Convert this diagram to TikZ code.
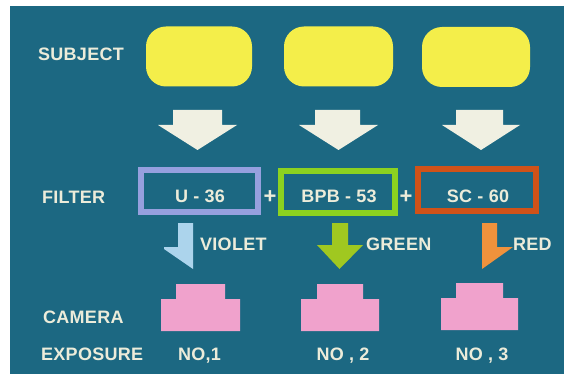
\documentclass[tikz,border=0pt]{standalone}
\usepackage{fontspec}
\setmainfont{Liberation Sans}[LetterSpace=1.5]
\definecolor{bgteal}{RGB}{28,104,130}
\definecolor{cream}{RGB}{236,236,218}
\definecolor{subjyellow}{RGB}{244,238,74}
\definecolor{arrowwhite}{RGB}{240,240,226}
\definecolor{violetc}{RGB}{150,160,222}
\definecolor{greenc}{RGB}{140,210,32}
\definecolor{redc}{RGB}{208,82,24}
\definecolor{violetarrow}{RGB}{172,212,236}
\definecolor{greenarrow}{RGB}{160,200,32}
\definecolor{redarrow}{RGB}{240,146,60}
\definecolor{camerapink}{RGB}{240,162,204}
\tikzset{
  lbl/.style={text=cream, font=\bfseries\fontsize{18}{20}\selectfont, inner sep=0pt},
  plus/.style={text=cream, font=\bfseries\fontsize{22}{24}\selectfont, inner sep=0pt},
  subj/.style={fill=subjyellow, rounded corners=20pt, minimum height=60pt, inner sep=0pt},
  fbox/.style={draw=#1, line width=6pt, minimum height=42pt, inner sep=0pt},
  bigarrow/.style={fill=arrowwhite},
  camera/.style={fill=camerapink}
}
\begin{document}
\begin{tikzpicture}[x=1pt,y=-1pt]
\useasboundingbox (0,0) rectangle (564,374);
\fill[white] (0,0) rectangle (564,374);
\fill[bgteal] (10,6) rectangle (564,374);
% row labels
\node[lbl, anchor=base west] (lsubject) at (38,60.5) {SUBJECT};
\node[lbl, anchor=base west] (lfilter) at (42,203) {FILTER};
\node[lbl, anchor=base west] (lcamera) at (43,323.5) {CAMERA};
\node[lbl, anchor=base west] (lexposure) at (41,360.5) {EXPOSURE};
% subjects
\node[subj, minimum width=106pt] (s1) at (199,56.5) {};
\node[subj, minimum width=109pt] (s2) at (338.5,56.5) {};
\node[subj, minimum width=108pt] (s3) at (476,57) {};
% white arrows
\fill[arrowwhite] (173,110) -- (222,110) -- (222,125) -- (237,125) -- (197.5,150) -- (158,125) -- (173,125) -- cycle;
\fill[arrowwhite] (315,110) -- (360,110) -- (360,125) -- (378,125) -- (338.5,150) -- (299,125) -- (315,125) -- cycle;
\fill[arrowwhite] (456,110) -- (503,110) -- (503,125) -- (520,125) -- (481,150) -- (442,125) -- (456,125) -- cycle;
% filters
\node[fbox=violetc, minimum width=117pt] (f1) at (199.5,191) {};
\node[fbox=greenc, minimum width=114pt] (f2) at (338,191.5) {};
\node[fbox=redc, minimum width=118pt] (f3) at (477,190) {};
\node[lbl, anchor=base] (t1) at (200,202.5) {U - 36};
\node[lbl, anchor=base] (t2) at (339,202.5) {BPB - 53};
\node[lbl, anchor=base] (t3) at (478,202.5) {SC - 60};
\node[plus, anchor=base] (p1) at (270,203) {+};
\node[plus, anchor=base] (p2) at (406,203) {+};
% coloured arrows
\fill[violetarrow] (178,223) -- (193,223) -- (193,269) -- (164,249) -- (164,247) -- (178,247) -- cycle;
\fill[greenarrow] (332,223) -- (348,223) -- (348,245) -- (363,245) -- (339.5,269) -- (317,245) -- (332,245) -- cycle;
\fill[redarrow] (482,223) -- (497,223) -- (497,247) -- (513,247) -- (482,269) -- cycle;
\node[lbl, anchor=base west] (cv) at (200,250.5) {VIOLET};
\node[lbl, anchor=base west] (cg) at (366,250.5) {GREEN};
\node[lbl, anchor=base west] (cr) at (513,250.5) {RED};
% cameras
\fill[camerapink] (161,331) -- (161,299) -- (176,299) -- (176,284) -- (225,284) -- (225,299) -- (240,299) -- (240,331) -- cycle;
\fill[camerapink] (301,331) -- (301,299) -- (317,299) -- (317,284) -- (363,284) -- (363,299) -- (379,299) -- (379,331) -- cycle;
\fill[camerapink] (441,330) -- (441,298) -- (456,298) -- (456,283) -- (503,283) -- (503,298) -- (518,298) -- (518,330) -- cycle;
% exposures
\node[lbl, anchor=base west] (n1) at (178,360.5) {NO,1};
\node[lbl, anchor=base] (n2) at (343,360.5) {NO , 2};
\node[lbl, anchor=base] (n3) at (482,360.5) {NO , 3};
\end{tikzpicture}
\end{document}
